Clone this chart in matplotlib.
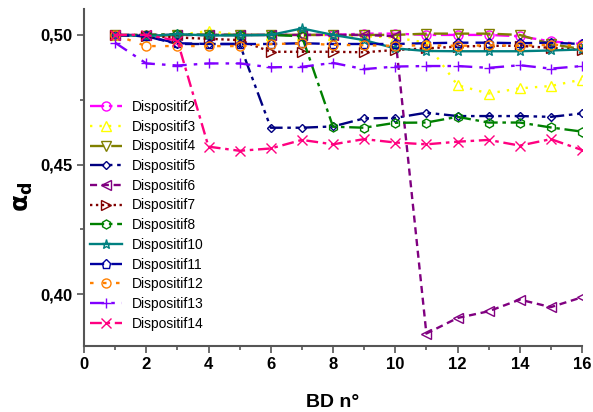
import matplotlib
matplotlib.use("Agg")
import matplotlib.pyplot as plt
from matplotlib.ticker import FixedLocator, MultipleLocator, FuncFormatter

# ----- data -----
bd = list(range(1, 17))

d2 = [0.500, 0.500, 0.500, 0.500, 0.500, 0.500, 0.500, 0.500,
      0.5005, 0.5005, 0.500, 0.500, 0.500, 0.4995, 0.4975, 0.4965]
d3 = [0.500, 0.500, 0.500, 0.5015, 0.500, 0.500, 0.500, 0.500,
      0.4995, 0.499, 0.497, 0.4806, 0.4774, 0.4794, 0.4803, 0.4828]
d4 = [0.500, 0.4995, 0.500, 0.500, 0.500, 0.500, 0.500, 0.500,
      0.500, 0.500, 0.5005, 0.5005, 0.5005, 0.500, 0.4965, 0.4945]
d5 = [0.500, 0.4995, 0.4965, 0.4965, 0.4965, 0.4642, 0.4642, 0.4647,
      0.4678, 0.468, 0.470, 0.4687, 0.4687, 0.4687, 0.4684, 0.4697]
d6 = [0.500, 0.500, 0.500, 0.500, 0.500, 0.500, 0.500, 0.500,
      0.500, 0.4995, 0.3848, 0.3908, 0.3934, 0.3979, 0.3950, 0.3988]
d7 = [0.500, 0.4995, 0.499, 0.4985, 0.498, 0.4935, 0.4935, 0.4935,
      0.4933, 0.4942, 0.4948, 0.4955, 0.4958, 0.4958, 0.495, 0.4942]
d8 = [0.500, 0.500, 0.5003, 0.500, 0.500, 0.500, 0.4995, 0.4646,
      0.4642, 0.4661, 0.4662, 0.4684, 0.4662, 0.4662, 0.4643, 0.4627]
d10 = [0.500, 0.4995, 0.5003, 0.4998, 0.4998, 0.500, 0.5025, 0.500,
       0.498, 0.4948, 0.4938, 0.4937, 0.4937, 0.4937, 0.494, 0.4944]
d11 = [0.500, 0.4995, 0.4968, 0.4965, 0.4965, 0.4965, 0.4968, 0.4965,
       0.4965, 0.4965, 0.4968, 0.497, 0.497, 0.4968, 0.497, 0.4965]
d12 = [0.500, 0.4957, 0.4957, 0.4957, 0.4957, 0.4965, 0.4967, 0.4962,
       0.496, 0.4958, 0.496, 0.4958, 0.496, 0.4958, 0.4962, 0.4958]
d13 = [0.497, 0.489, 0.4882, 0.489, 0.489, 0.4875, 0.4877, 0.4892,
       0.4868, 0.4878, 0.488, 0.488, 0.4873, 0.4883, 0.487, 0.488]
d14 = [0.500, 0.500, 0.4978, 0.4569, 0.4553, 0.4562, 0.4595, 0.4578,
       0.4598, 0.4585, 0.4578, 0.4588, 0.4595, 0.4573, 0.4598, 0.4556]

labels = ["Dispositif2", "Dispositif3", "Dispositif4", "Dispositif5",
          "Dispositif6", "Dispositif7", "Dispositif8", "Dispositif10",
          "Dispositif11", "Dispositif12", "Dispositif13", "Dispositif14"]
series = [d2, d3, d4, d5, d6, d7, d8, d10, d11, d12, d13, d14]

# ----- styles (Origin-like) -----
styles = [
    dict(color="#FF00FF", marker="o", ls=(0, (6, 2, 1.5, 2))),
    dict(color="#FFFF00", marker="^", ls=(0, (1, 3))),
    dict(color="#808000", marker="v", ls=(0, (6, 3))),
    dict(color="#000080", marker="D", ls=(0, (6, 2, 1.5, 2, 1.5, 2)), ms=4.5),
    dict(color="#800080", marker="<", ls=(0, (3, 2))),
    dict(color="#800000", marker=">", ls=(0, (1, 1.5))),
    dict(color="#008000", marker="h", ls=(0, (6, 2, 1.5, 2))),
    dict(color="#008080", marker="*", ls="-"),
    dict(color="#0000A0", marker="p", ls=(0, (6, 3))),
    dict(color="#FF8000", marker="o", ls=(0, (1.5, 4))),
    dict(color="#8000FF", marker="+", ls=(0, (6, 3, 1.5, 3))),
    dict(color="#FF0080", marker="x", ls=(0, (5, 2, 1.5, 2))),
]

plt.rcParams["font.family"] = ["Liberation Sans", "DejaVu Sans"]

fig = plt.figure(figsize=(5.93, 4.12), dpi=100)
ax = fig.add_axes([84 / 593, 1 - 346 / 412, (582 - 84) / 593, (346 - 9) / 412])

for vals, lab, st in zip(series, labels, styles):
    ax.plot(bd, vals, color=st["color"], linestyle=st["ls"], linewidth=1.7,
            marker=st["marker"], markersize=st.get("ms", 6.5),
            markerfacecolor="none", markeredgecolor=st["color"],
            markeredgewidth=1.0, label=lab)

ax.set_xlim(0, 16)
ax.set_ylim(0.38, 0.51)
ax.xaxis.set_major_locator(MultipleLocator(2))
ax.xaxis.set_minor_locator(MultipleLocator(1))
ax.yaxis.set_major_locator(FixedLocator([0.40, 0.45, 0.50]))
ax.yaxis.set_minor_locator(FixedLocator([0.425, 0.475]))
ax.yaxis.set_major_formatter(FuncFormatter(lambda v, p: f"{v:.2f}".replace(".", ",")))

for side in ("top", "right"):
    ax.spines[side].set_visible(False)
for side in ("left", "bottom"):
    ax.spines[side].set_color("#555555")
    ax.spines[side].set_linewidth(1.5)

ax.tick_params(which="major", direction="out", length=5, width=1.2,
               color="#555555", labelsize=12, pad=3)
ax.tick_params(which="minor", direction="out", length=3, width=1.2,
               color="#555555")
for t in ax.get_xticklabels() + ax.get_yticklabels():
    t.set_fontweight("bold")

ax.set_xlabel("BD n°", fontsize=14, fontweight="bold", labelpad=16)
fig.text(23 / 593, 1 - 197 / 412, r"$\mathbf{\alpha_d}$", rotation=90,
         ha="center", va="center", fontsize=18)

leg = ax.legend(loc="upper left", bbox_to_anchor=(6 / 498, 1 - 91 / 337),
                frameon=False, fontsize=10, labelspacing=0.41,
                handlelength=2.3, handletextpad=0.7, borderpad=0,
                borderaxespad=0, markerscale=1.0)

fig.savefig("out.png", dpi=100)
